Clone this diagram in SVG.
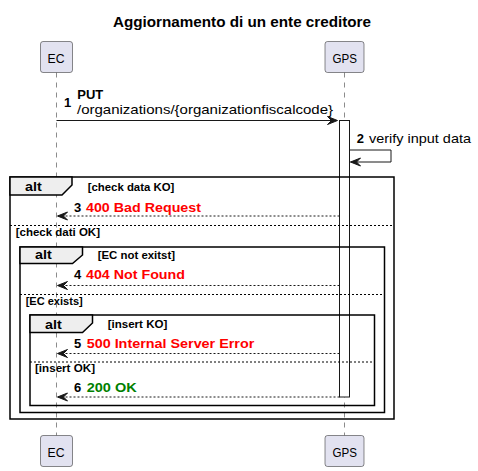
<svg xmlns="http://www.w3.org/2000/svg" width="478" height="471" viewBox="0 0 478 471">
<style>
text{font-family:"Liberation Sans",Arial,sans-serif;fill:#000}
.title{font-size:14px;font-weight:bold}
.part{font-size:13px}
.pbox{fill:#E2E2F0;stroke:#181818;stroke-width:0.5}
.life{stroke:#181818;stroke-width:0.5;stroke-dasharray:5,5;fill:none}
.msg{font-size:13px}
.b{font-weight:bold}
.red{fill:#FF0000;font-weight:bold;font-size:13px}
.green{fill:#008000;font-weight:bold;font-size:13px}
.frame{fill:none;stroke:#000;stroke-width:1.5}
.tab{fill:#EEEEEE;stroke:#000;stroke-width:1.5}
.sep{stroke:#000;stroke-width:1;stroke-dasharray:2,2;fill:none}
.alt{font-size:13px;font-weight:bold}
.cond{font-size:11px;font-weight:bold}
.line{stroke:#181818;stroke-width:1;fill:none}
.dash{stroke:#181818;stroke-width:1;stroke-dasharray:2,2;fill:none}
.head{fill:#181818;stroke:#181818;stroke-width:1}
.act{fill:#FFFFFF;stroke:#181818;stroke-width:1}
</style>
<text class="title" x="113" y="27" textLength="258" lengthAdjust="spacingAndGlyphs">Aggiornamento di un ente creditore</text>

<g id="lifelines">
<line class="life" x1="56.5" y1="72.5" x2="56.5" y2="435.5"/>
<line class="life" x1="344.5" y1="72.5" x2="344.5" y2="435.5"/>
</g>

<g id="EC">
<rect class="pbox" x="40.5" y="41.5" width="32" height="31" rx="2.5"/>
<text class="part" x="47.5" y="63" textLength="17" lengthAdjust="spacingAndGlyphs">EC</text>
</g>
<g id="GPS">
<rect class="pbox" x="325" y="41.5" width="39" height="31" rx="2.5"/>
<text class="part" x="332.5" y="63" textLength="24.5" lengthAdjust="spacingAndGlyphs">GPS</text>
</g>
<g id="EC-bottom">
<rect class="pbox" x="40.5" y="435.5" width="32" height="31" rx="2.5"/>
<text class="part" x="47.5" y="457" textLength="17" lengthAdjust="spacingAndGlyphs">EC</text>
</g>
<g id="GPS-bottom">
<rect class="pbox" x="325" y="435.5" width="39" height="31" rx="2.5"/>
<text class="part" x="332.5" y="457" textLength="24.5" lengthAdjust="spacingAndGlyphs">GPS</text>
</g>

<g id="activation">
<rect class="act" x="339.5" y="120.5" width="10" height="276.5"/>
</g>

<g id="frames">
<rect class="frame" x="10" y="177" width="384" height="242"/>
<path class="tab" d="M10,177 L72,177 L72,185 L62,195 L10,195 Z"/>
<text class="alt" x="25" y="191" textLength="16.7" lengthAdjust="spacingAndGlyphs">alt</text>
<text class="cond" x="87.7" y="190.5" textLength="86.6" lengthAdjust="spacingAndGlyphs">[check data KO]</text>
<line class="sep" x1="10" y1="225.5" x2="394" y2="225.5"/>
<text class="cond" x="15.7" y="236" textLength="84.3" lengthAdjust="spacingAndGlyphs">[check dati OK]</text>

<rect class="frame" x="20" y="247" width="364.5" height="165.5"/>
<path class="tab" d="M20,247 L82.5,247 L82.5,255 L72.5,263.5 L20,263.5 Z"/>
<text class="alt" x="35" y="259" textLength="16.7" lengthAdjust="spacingAndGlyphs">alt</text>
<text class="cond" x="97.7" y="259" textLength="77.3" lengthAdjust="spacingAndGlyphs">[EC not exitst]</text>
<line class="sep" x1="20" y1="294.5" x2="384.5" y2="294.5"/>
<text class="cond" x="25.7" y="304.5" textLength="57" lengthAdjust="spacingAndGlyphs">[EC exists]</text>

<rect class="frame" x="30" y="315" width="344.5" height="90.5"/>
<path class="tab" d="M30,315 L92.5,315 L92.5,323 L82.5,332.5 L30,332.5 Z"/>
<text class="alt" x="45" y="328.5" textLength="16.7" lengthAdjust="spacingAndGlyphs">alt</text>
<text class="cond" x="107.7" y="328.3" textLength="59.6" lengthAdjust="spacingAndGlyphs">[insert KO]</text>
<line class="sep" x1="30" y1="362" x2="374.5" y2="362"/>
<text class="cond" x="35" y="372.3" textLength="60" lengthAdjust="spacingAndGlyphs">[insert OK]</text>
</g>

<g id="connectors">
<line class="line" x1="56.5" y1="120.5" x2="337" y2="120.5"/>
<polygon class="head" points="327.5,116.5 337.5,120.5 327.5,124.5 331.5,120.5"/>
<text class="msg b" x="64" y="106.7">1</text>
<text class="msg b" x="77.3" y="99.3" textLength="26" lengthAdjust="spacingAndGlyphs">PUT</text>
<text class="msg" x="77" y="113.5" textLength="256" lengthAdjust="spacingAndGlyphs">/organizations/{organizationfiscalcode}</text>

<polyline class="line" points="349.5,150 391,150 391,162 350.5,162"/>
<polygon class="head" points="360.5,158 350.5,162 360.5,166 356.5,162"/>
<text class="msg b" x="356.7" y="143">2</text>
<text class="msg" x="369" y="143" textLength="102" lengthAdjust="spacingAndGlyphs">verify input data</text>

<line class="dash" x1="339.5" y1="216" x2="58" y2="216"/>
<polygon class="head" points="67.5,212 57.5,216 67.5,220 63.5,216"/>
<text class="msg b" x="74" y="211.7">3</text>
<text class="red" x="86" y="211.7" textLength="115" lengthAdjust="spacingAndGlyphs">400 Bad Request</text>

<line class="dash" x1="339.5" y1="285.5" x2="58" y2="285.5"/>
<polygon class="head" points="67.5,281.5 57.5,285.5 67.5,289.5 63.5,285.5"/>
<text class="msg b" x="74" y="279.3">4</text>
<text class="red" x="86" y="279.3" textLength="99" lengthAdjust="spacingAndGlyphs">404 Not Found</text>

<line class="dash" x1="339.5" y1="353.5" x2="58" y2="353.5"/>
<polygon class="head" points="67.5,349.5 57.5,353.5 67.5,357.5 63.5,353.5"/>
<text class="msg b" x="74" y="348.3">5</text>
<text class="red" x="86.7" y="348.3" textLength="167.6" lengthAdjust="spacingAndGlyphs">500 Internal Server Error</text>

<line class="dash" x1="339.5" y1="397" x2="58" y2="397"/>
<polygon class="head" points="67.5,393 57.5,397 67.5,401 63.5,397"/>
<text class="msg b" x="74" y="391.7">6</text>
<text class="green" x="86.7" y="391.7" textLength="50" lengthAdjust="spacingAndGlyphs">200 OK</text>
</g>
</svg>
